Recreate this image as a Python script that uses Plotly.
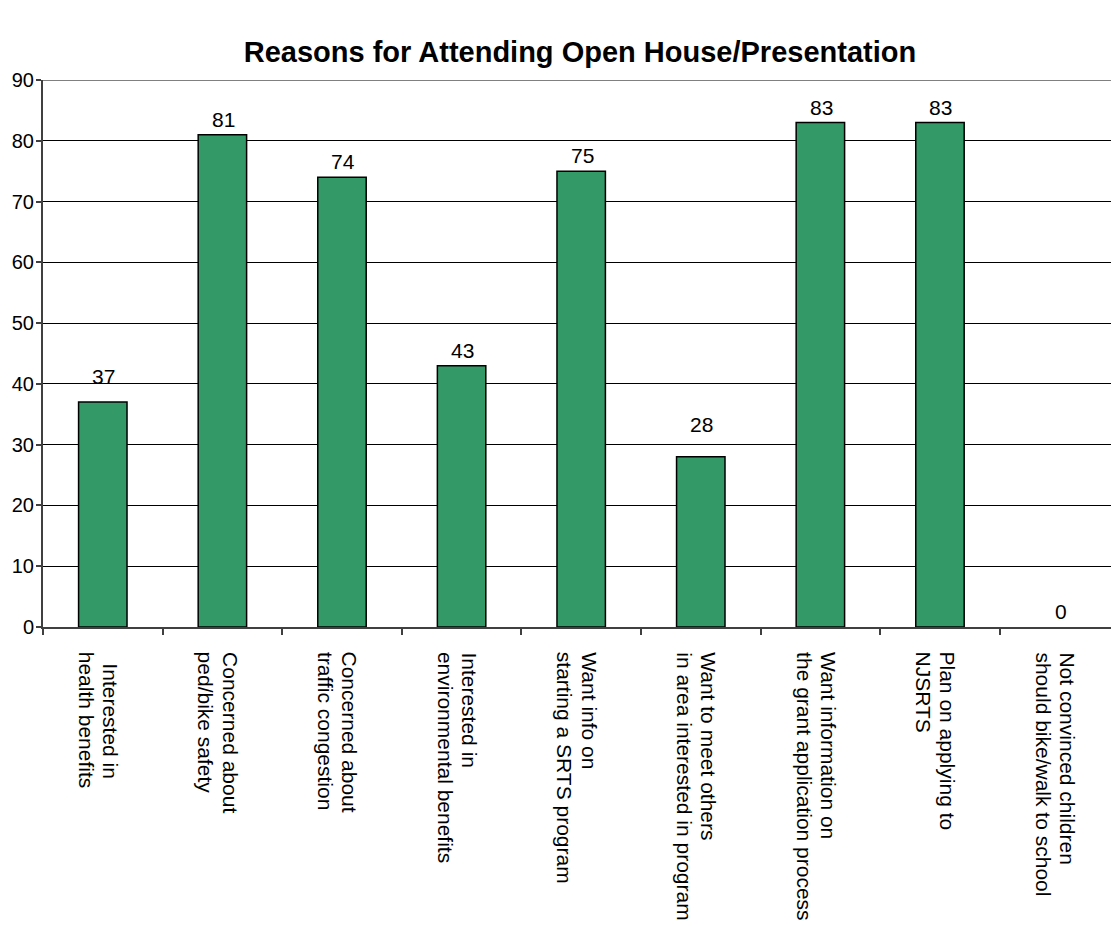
import plotly.graph_objects as go

# Survey responses: reasons for attending
categories = [
    "\u00a0\u00a0Interested in<br>health benefits",
    "Concerned about<br>ped/bike safety",
    "Concerned about<br>traffic congestion",
    "Interested in<br>environmental benefits",
    "Want info on<br>starting a SRTS program",
    "Want to meet others<br>in area interested in program",
    "Want information on<br>the grant application process",
    "Plan on applying to<br>NJSRTS",
    "Not convinced children<br>should bike/walk to school",
]
counts = [37, 81, 74, 43, 75, 28, 83, 83, 0]
y_ticks = [0, 10, 20, 30, 40, 50, 60, 70, 80, 90]

FONT = "Liberation Sans, Arial, sans-serif"
BAR_GREEN = "#339966"
# extra vertical lift (px) for value labels that sit higher above their bars
label_lift = [10, 0, 0, 0, 0, 17, 0, 0, 0]

fig = go.Figure()
fig.add_trace(go.Bar(
    x=categories,
    y=counts,
    width=0.405,
    marker=dict(color=BAR_GREEN,
                line=dict(color="#000000",
                          width=[1.5 if v > 0 else 0 for v in counts])),
    hoverinfo="skip",
))

# Value labels above each bar
for cat, v, lift in zip(categories, counts, label_lift):
    fig.add_annotation(
        x=cat, y=v, xref="x", yref="y",
        text=str(v), showarrow=False,
        yanchor="bottom", xanchor="center",
        yshift=2 + lift, xshift=1,
        font=dict(family=FONT, size=21, color="#000000"),
    )

# Rotated category labels, one annotation per text line (tighter line pitch)
LINE_PITCH = 24
for cat in categories:
    for i, line in enumerate(cat.split("<br>")):
        fig.add_annotation(
            x=cat, y=0, xref="x", yref="y",
            text=line, showarrow=False, textangle=90,
            xanchor="center", yanchor="top",
            xshift=8 - i * LINE_PITCH,
            yshift=-23,
            font=dict(family=FONT, size=21, color="#000000"),
        )

# Top border of the plot area at the 90 line
fig.add_shape(type="line", xref="paper", yref="y", x0=0, x1=1, y0=90, y1=90,
              line=dict(color="#808080", width=2))

fig.update_layout(
    width=1111,
    height=926,
    margin=dict(l=43, r=0, t=80, b=299),
    paper_bgcolor="#ffffff",
    plot_bgcolor="#ffffff",
    showlegend=False,
    title=dict(
        text="<b>Reasons for Attending Open House/Presentation</b>",
        x=0.522, xanchor="center", y=1 - 52 / 926, yanchor="middle",
        font=dict(family=FONT, size=29, color="#000000"),
    ),
    font=dict(family=FONT, color="#000000"),
    xaxis=dict(
        type="category",
        range=[-0.5, 8.43],
        tickson="boundaries",
        ticks="outside",
        ticklen=6,
        tickwidth=1.5,
        tickcolor="#404040",
        showticklabels=False,
        showline=True,
        linecolor="#404040",
        linewidth=2,
        showgrid=False,
    ),
    yaxis=dict(
        range=[0, 90],
        tickvals=y_ticks,
        ticks="outside",
        ticklen=5,
        tickwidth=1.5,
        tickcolor="#404040",
        tickfont=dict(family=FONT, size=20, color="#000000"),
        showline=True,
        linecolor="#404040",
        linewidth=2,
        showgrid=True,
        gridcolor="#000000",
        gridwidth=1,
        zeroline=False,
        ticklabelstandoff=-2,
    ),
)

fig.write_html("out.html")
